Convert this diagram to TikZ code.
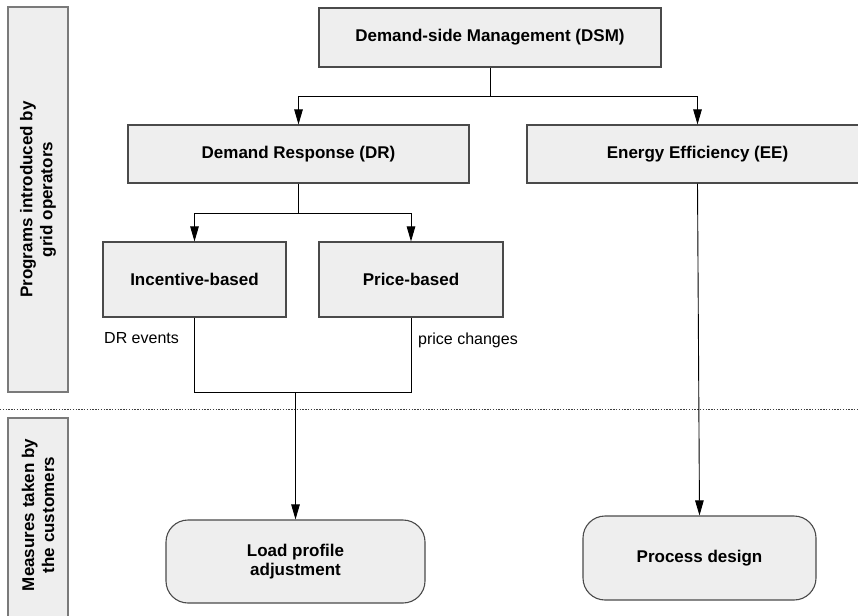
\documentclass[tikz,border=0pt]{standalone}
\usepackage{fontspec}
\setmainfont{Liberation Sans}
\usetikzlibrary{arrows.meta}
\definecolor{boxfill}{HTML}{EEEEEE}
\definecolor{boxline}{HTML}{4A4A4A}
\definecolor{sideline}{HTML}{7A7A7A}
\tikzset{
  base/.style={draw=boxline, fill=boxfill, line width=1.1pt, inner sep=0pt,
    align=center, font=\fontsize{17}{19}\selectfont\bfseries},
  stepbox/.style={base, rectangle},
  measure/.style={base, rectangle, rounded corners=22pt},
  sidelabel/.style={rotate=90, inner sep=0pt, align=center,
    font=\fontsize{17}{20}\selectfont\bfseries},
  note/.style={inner sep=0pt, anchor=west, font=\fontsize{16}{18}\selectfont},
  link/.style={draw=black, line width=0.9pt},
  arr/.style={link, -{Triangle[length=15pt,width=8.5pt]}},
}
\begin{document}
\begin{tikzpicture}[x=1pt,y=-1pt]
\useasboundingbox (0,0) rectangle (858,615);
\clip (0,0) rectangle (858,615);

% side bands
\path[draw=sideline, fill=boxfill, line width=2pt] (8,7) rectangle (68,392);
\node[sidelabel] (progs) at (38,199.5) {Programs introduced by\\grid operators};
\path[draw=sideline, fill=boxfill, line width=2pt] (8,418) rectangle (68,660);
\node[sidelabel] (meas) at (38,515) {Measures taken by\\the customers};

% separator
\draw[black!75, line width=0.8pt, dash pattern=on 1.4pt off 1.4pt] (0,409) -- (858,409);

% programme boxes
\node[stepbox, minimum width=342pt, minimum height=59pt] (dsm) at (490,37.5) {Demand-side Management (DSM)};
\node[stepbox, minimum width=341pt, minimum height=58pt] (dr) at (298.5,154) {Demand Response (DR)};
\node[stepbox, minimum width=341pt, minimum height=58pt] (ee) at (697.5,154) {Energy Efficiency (EE)};
\node[stepbox, minimum width=183pt, minimum height=75pt] (inc) at (194.5,279.5) {Incentive-based};
\node[stepbox, minimum width=184pt, minimum height=75pt] (price) at (411,279.5) {Price-based};

% customer measures
\node[measure, minimum width=259pt, minimum height=83pt] (load) at (295.5,561.5) {Load profile\\adjustment};
\node[measure, minimum width=233pt, minimum height=84pt] (proc) at (699.5,558) {Process design};

% labels
\node[note] (drev) at (104,338) {DR events};
\node[note] (pchg) at (418,340) {price changes};

% connectors
\coordinate (dsmsplit) at (490,96);
\coordinate (drsplit) at (298.5,213);
\coordinate (joinL) at (inc.south |- 0,392);
\coordinate (joinR) at (price.south |- 0,392);
\coordinate (joinM) at (295.5,392);

\draw[link] (dsm.south) -- (dsmsplit);
\draw[arr] (dsmsplit) -| (dr.north);
\draw[arr] (dsmsplit) -| (ee.north);

\draw[link] (dr.south) -- (drsplit);
\draw[arr] (drsplit) -| (inc.north);
\draw[arr] (drsplit) -| (price.north);

\draw[link] (inc.south) -- (joinL) -- (joinR) -- (price.south);
\draw[arr] (joinM) -- (load.north);

\draw[arr] (ee.south) -- (proc.north);
\end{tikzpicture}
\end{document}
